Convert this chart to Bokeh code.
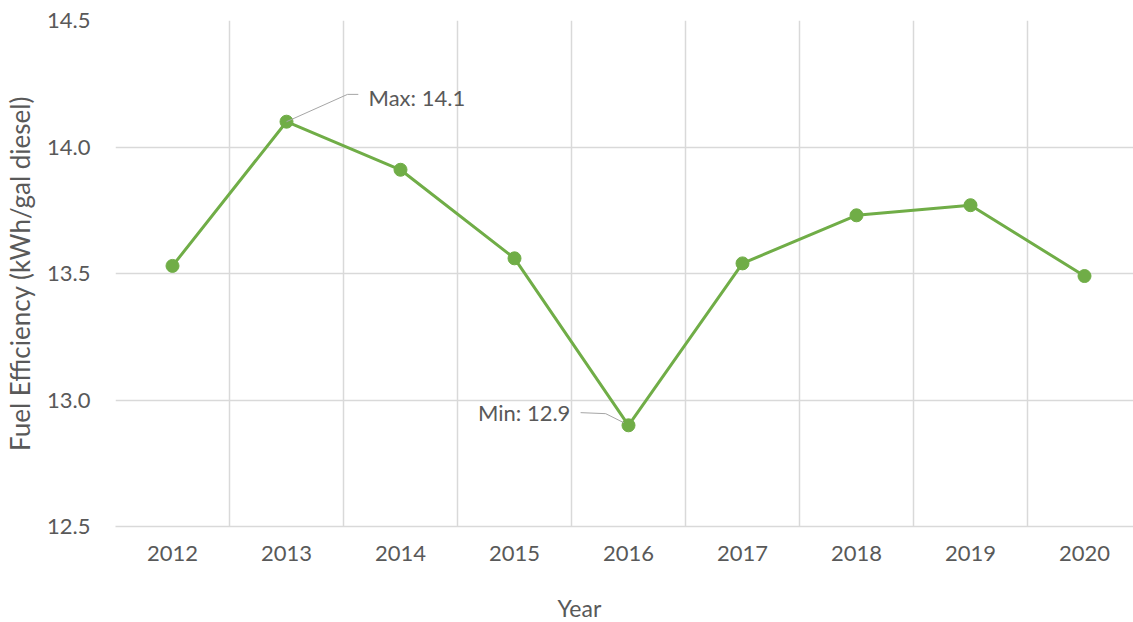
from bokeh.plotting import figure
from bokeh.models import FixedTicker, Label, Range1d, ColumnDataSource, PrintfTickFormatter, Title
from bokeh.embed import file_html
from bokeh.resources import INLINE

# ---- data ----
years = [2012, 2013, 2014, 2015, 2016, 2017, 2018, 2019, 2020]
efficiency = [13.53, 14.10, 13.91, 13.56, 12.90, 13.54, 13.73, 13.77, 13.49]
y_ticks = [12.5, 13.0, 13.5, 14.0, 14.5]
max_label = "Max: 14.1"
min_label = "Min: 12.9"
x_title = "Year"
y_title = "Fuel Efficiency (kWh/gal diesel)"

GREEN = "#70AD47"
GRID = "#d9d9d9"
TXT = "#595959"
FONT = "Lato"
FS = "22px"

src = ColumnDataSource(data=dict(year=years, eff=efficiency))

p = figure(width=1133, height=622, output_backend="svg", toolbar_location=None,
           x_range=Range1d(2011.5, 2011.5 + 1018 / 114), y_range=Range1d(12.5, 14.5),
           min_border_left=115, min_border_right=0, min_border_top=20, min_border_bottom=96)
p.outline_line_color = None
p.background_fill_color = "white"

# axes
p.xaxis.ticker = FixedTicker(ticks=years)
p.yaxis.ticker = FixedTicker(ticks=y_ticks)
p.yaxis.formatter = PrintfTickFormatter(format="%.1f")
for ax in (p.xaxis[0], p.yaxis[0]):
    ax.major_tick_out = 0
    ax.major_tick_in = 0
    ax.minor_tick_out = 0
    ax.minor_tick_in = 0
    ax.major_label_text_font = FONT
    ax.major_label_text_font_size = FS
    ax.major_label_text_color = TXT
    ax.axis_label_text_font = FONT
    ax.axis_label_text_font_size = "26px"
    ax.axis_label_text_color = TXT
    ax.axis_label_text_font_style = "normal"
p.xaxis.axis_line_color = GRID
p.xaxis.axis_line_width = 1.5
p.yaxis.axis_line_color = None
p.xaxis.major_label_standoff = 19
p.yaxis.major_label_standoff = 25
p.yaxis.axis_label = y_title
p.yaxis.axis_label_standoff = 8

# x axis title, offset to the left like the reference
p.add_layout(Title(text="\n" + x_title, align="left", offset=442, standoff=0,
                   vertical_align="bottom", text_line_height=1.0,
                   text_font=FONT, text_font_size="23px", text_color=TXT,
                   text_font_style="normal"), "below")

# grids
p.xgrid.ticker = FixedTicker(ticks=[y - 0.5 for y in years] + [years[-1] + 0.5])
p.ygrid.ticker = FixedTicker(ticks=y_ticks)
for g in (p.xgrid[0], p.ygrid[0]):
    g.grid_line_color = GRID
    g.grid_line_width = 1.5

# series
p.line("year", "eff", source=src, line_color=GREEN, line_width=3)
p.scatter("year", "eff", source=src, size=13, fill_color=GREEN, line_color=GREEN)

# annotations (max/min callouts)
imax = efficiency.index(max(efficiency))
imin = efficiency.index(min(efficiency))
xmax, ymax = years[imax], efficiency[imax]
xmin, ymin = years[imin], efficiency[imin]

p.line([xmax, xmax + 0.535, xmax + 0.63], [ymax, ymax + 0.108, ymax + 0.108],
       line_color="#a6a6a6", line_width=1)
p.add_layout(Label(x=xmax + 0.72, y=ymax + 0.096, text=max_label, text_font=FONT,
                   text_font_size=FS, text_color=TXT, text_baseline="middle", text_align="left"))

p.line([xmin - 0.42, xmin - 0.2, xmin - 0.04], [ymin + 0.05, ymin + 0.046, ymin + 0.01],
       line_color="#a6a6a6", line_width=1)
p.add_layout(Label(x=xmin - 0.51, y=ymin + 0.05, text=min_label, text_font=FONT,
                   text_font_size=FS, text_color=TXT, text_baseline="middle", text_align="right"))

open("out.html", "w").write(file_html(p, INLINE))
